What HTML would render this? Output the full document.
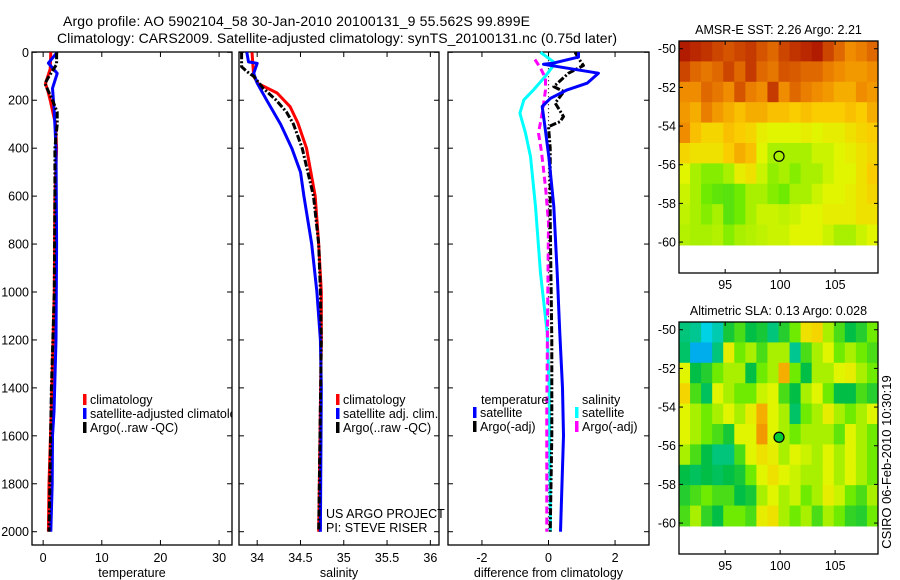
<!DOCTYPE html>
<html><head><meta charset="utf-8"><style>
body{margin:0;background:#fff;}
svg{display:block;font-family:"Liberation Sans",sans-serif;}
text{fill:#000;}
</style></head><body>
<svg id="fig" width="900" height="580" viewBox="0 0 900 580" xmlns="http://www.w3.org/2000/svg">
<defs><clipPath id="clip1"><rect x="32" y="52" width="200" height="493"/></clipPath></defs>
<text x="63" y="26" font-size="14" textLength="467">Argo profile: AO 5902104_58 30-Jan-2010 20100131_9 55.562S 99.899E</text>
<text x="57" y="43" font-size="14" textLength="560">Climatology: CARS2009. Satellite-adjusted climatology: synTS_20100131.nc (0.75d later)</text>
<g id="g1"></g><g id="g2"></g><g id="g3"></g><g id="gm1"></g><g id="gm2"></g>
<text transform="translate(891,462) rotate(-90)" text-anchor="middle" font-size="13">CSIRO 06-Feb-2010 10:30:19</text>
</svg>
<script>
// ---------- profile data ----------
const depthTicks=[0,200,400,600,800,1000,1200,1400,1600,1800,2000];
const tempTicks=[0,10,20,30];
const salTicks=[34,34.5,35,35.5,36];
const diffTicks=[-2,0,2];
// temperature
const tClimD=[0,70,100,130,160,200,300,400,600,1000,1200,1400,1600,1800,2000];
const tClimV=[1.3,1.2,0.8,0.4,0.8,1.2,2.1,2.3,2.0,1.9,1.7,1.5,1.25,1.0,0.9];
const tSatD=[0,45,88,150,250,400,800,1200,1500,1600,1800,2000];
const tSatV=[2.4,0.9,2.4,1.6,1.9,2.2,2.3,2.2,1.85,1.6,1.55,1.3];
const tArgoD=[0,50,100,130,200,250,300,400,600,1000,1400,1800,2000];
const tArgoV=[2.3,2.3,1.0,0.3,1.6,2.4,2.4,2.0,2.0,1.9,1.4,1.15,1.0];
// salinity
const sClimD=[0,100,130,170,227,295,400,600,800,1000,1200,2000];
const sClimV=[33.94,33.96,34.01,34.23,34.38,34.47,34.57,34.67,34.71,34.74,34.74,34.71];
const sSatD=[0,40,46,88,129,200,300,400,500,600,800,1000,1200,1400,2000];
const sSatV=[33.88,33.9,34.0,33.96,34.0,34.11,34.27,34.4,34.5,34.54,34.63,34.69,34.73,34.74,34.73];
const sArgoD=[0,60,80,100,150,200,250,300,400,600,800,1000,1200,2000];
const sArgoV=[33.82,33.82,33.88,33.96,34.07,34.22,34.34,34.42,34.52,34.65,34.71,34.73,34.74,34.71];
// differences
const dTSatD=[0,20,45,50,87,129,157,192,226,296,435,643,921,1171,1400,1600,2000];
const dTSatV=[0.9,0.9,0.15,-0.15,1.5,1.16,0.56,0.06,-0.19,-0.12,0.01,0.16,0.26,0.34,0.42,0.45,0.36];
const dSSatD=[0,45,101,157,198,254,337,435,643,921,1171,1400,2000];
const dSSatV=[-0.24,0.2,-0.1,-0.45,-0.74,-0.86,-0.69,-0.54,-0.39,-0.24,-0.04,0.02,0.06];
const dTArgoD=[0,25,55,87,143,164,212,268,289,310,400,700,1200,1600,2000];
const dTArgoV=[0.8,0.9,1.05,0.6,0.16,0.46,0.2,0.45,0.35,0.0,0.05,0.05,0.1,0.1,0.05];
const dSArgoD=[30,66,108,157,240,337,407,462,574,713,1000,1500,2000];
const dSArgoV=[-0.41,-0.24,-0.09,-0.09,-0.17,-0.3,-0.22,-0.17,-0.08,0.0,-0.02,-0.05,-0.05];
// ---------- map data ----------
const mapLons=[95,100,105];
const mapLats=[-50,-52,-54,-56,-58,-60];
const argoLon=99.899, argoLat=-55.562;
const sstGrid=[
[0.97,0.95,0.93,0.9,0.88,0.9,0.92,0.88,0.85,0.9,0.93,0.95,0.97,0.9,0.85,0.8,0.82,0.85],
[0.9,0.85,0.83,0.85,0.9,0.85,0.92,0.85,0.83,0.88,0.87,0.85,0.85,0.82,0.8,0.78,0.78,0.8],
[0.8,0.8,0.85,0.83,0.8,0.88,0.82,0.8,0.92,0.8,0.85,0.82,0.8,0.78,0.75,0.75,0.8,0.78],
[0.78,0.75,0.82,0.78,0.75,0.72,0.75,0.75,0.72,0.72,0.7,0.72,0.7,0.7,0.7,0.72,0.7,0.75],
[0.8,0.72,0.68,0.68,0.72,0.7,0.68,0.62,0.6,0.6,0.6,0.62,0.6,0.62,0.62,0.65,0.68,0.7],
[0.68,0.65,0.65,0.65,0.7,0.75,0.72,0.6,0.55,0.55,0.55,0.55,0.58,0.58,0.6,0.62,0.65,0.68],
[0.6,0.55,0.52,0.52,0.55,0.62,0.65,0.58,0.53,0.55,0.52,0.55,0.55,0.58,0.6,0.6,0.65,0.7],
[0.58,0.55,0.5,0.48,0.47,0.5,0.55,0.55,0.52,0.5,0.55,0.55,0.58,0.6,0.6,0.62,0.65,0.68],
[0.57,0.55,0.52,0.55,0.47,0.5,0.55,0.58,0.58,0.57,0.58,0.6,0.6,0.62,0.62,0.62,0.65,0.65],
[0.56,0.55,0.55,0.56,0.52,0.55,0.56,0.57,0.58,0.58,0.6,0.6,0.6,0.58,0.55,0.55,0.58,0.6]];
const slaGrid=[
[0.3,0.28,0.2,0.25,0.38,0.45,0.35,0.38,0.3,0.4,0.5,0.65,0.68,0.55,0.45,0.35,0.4,0.5],
[0.32,0.15,0.15,0.3,0.62,0.5,0.55,0.45,0.55,0.55,0.28,0.45,0.55,0.6,0.5,0.55,0.5,0.45],
[0.6,0.35,0.4,0.5,0.55,0.55,0.35,0.5,0.55,0.75,0.5,0.35,0.55,0.55,0.6,0.62,0.55,0.5],
[0.68,0.45,0.33,0.6,0.55,0.5,0.5,0.58,0.6,0.45,0.35,0.55,0.6,0.5,0.35,0.35,0.45,0.4],
[0.6,0.55,0.5,0.55,0.6,0.55,0.62,0.75,0.6,0.55,0.32,0.5,0.55,0.62,0.55,0.5,0.55,0.6],
[0.6,0.55,0.5,0.45,0.38,0.6,0.6,0.78,0.6,0.55,0.5,0.55,0.55,0.55,0.48,0.6,0.55,0.5],
[0.55,0.45,0.35,0.3,0.3,0.45,0.6,0.65,0.62,0.55,0.6,0.58,0.55,0.6,0.55,0.6,0.55,0.5],
[0.35,0.33,0.35,0.33,0.35,0.38,0.5,0.6,0.65,0.6,0.58,0.55,0.55,0.6,0.55,0.6,0.55,0.5],
[0.4,0.45,0.5,0.45,0.45,0.35,0.38,0.55,0.6,0.55,0.58,0.5,0.55,0.62,0.58,0.5,0.45,0.55],
[0.45,0.55,0.42,0.35,0.5,0.5,0.45,0.62,0.65,0.55,0.5,0.55,0.45,0.55,0.5,0.42,0.4,0.5]];

const NS="http://www.w3.org/2000/svg";
function mk(tag,attrs,parent){const e=document.createElementNS(NS,tag);for(const k in attrs)e.setAttribute(k,attrs[k]);parent.appendChild(e);return e;}
const TOP=52, BOT=545;
function yD(d){return 52.3+d*0.2397;}

function panel(g,left,right,x0,x1,ticks,title,name){
  const sx=v=>left+(v-x0)/(x1-x0)*(right-left);
  const fr=mk('rect',{x:left,y:TOP,width:right-left,height:BOT-TOP,fill:'none',stroke:'#000','stroke-width':1.3},g);
  
  
  depthTicks.forEach(d=>{
    const y=yD(d);
    mk('line',{x1:left,x2:left+5,y1:y,y2:y,stroke:'#000'},g);
    mk('line',{x1:right,x2:right-5,y1:y,y2:y,stroke:'#000'},g);
    if(name==='temperature-panel'){
      const t=mk('text',{x:left-3,y:y+4.5,'text-anchor':'end','font-size':12.5},g);t.textContent=d;
      
      
    }
  });
  ticks.forEach(v=>{
    const x=sx(v);
    mk('line',{x1:x,x2:x,y1:BOT,y2:BOT-5,stroke:'#000'},g);
    mk('line',{x1:x,x2:x,y1:TOP,y2:TOP+5,stroke:'#000'},g);
    const t=mk('text',{x:x,y:562,'text-anchor':'middle','font-size':12.5},g);t.textContent=v;
    
    
  });
  const tt=mk('text',{x:(left+right)/2,y:577,'text-anchor':'middle','font-size':12.5},g);tt.textContent=title;
  
  
  return sx;
}
function line(g,sx,D,V,color,dash,name){
  const pts=D.map((d,i)=>sx(V[i]).toFixed(1)+','+yD(d).toFixed(1)).join(' ');
  const p=mk('polyline',{points:pts,fill:'none',stroke:color,'stroke-width':3,'stroke-linejoin':'round'},g);
  if(dash)p.setAttribute('stroke-dasharray',dash);
  
  
}
function legend(g,x,y,color,label,name,clip){
  mk('rect',{x:x,y:y-10,width:3.5,height:11,fill:color},g);
  const t=mk('text',{x:x+7,y:y,'font-size':12.5},g);t.textContent=label;
  if(clip)t.setAttribute('clip-path','url(#'+clip+')');
  
  
}
const DASH_BLK='7,2,2,2', DASH_MAG='7,4';
// Panel 1
const g1=document.getElementById('g1');
const sx1=panel(g1,32,232,-1.9,32.2,tempTicks,'temperature','temperature-panel');
line(g1,sx1,tClimD,tClimV,'#ff0000',null,'temp-climatology-line');
line(g1,sx1,tSatD,tSatV,'#0000ff',null,'temp-satellite-line');
line(g1,sx1,tArgoD,tArgoV,'#000',DASH_BLK,'temp-argo-line');
legend(g1,83,404,'#ff0000','climatology','legend-climatology','clip1');
legend(g1,83,418,'#0000ff','satellite-adjusted climatology','legend-satellite-adjusted','clip1');
legend(g1,83,432,'#000','Argo(..raw -QC)','legend-argo','clip1');
// Panel 2
const g2=document.getElementById('g2');
const sx2=panel(g2,239,439,33.79,36.1,salTicks,'salinity','salinity-panel');
line(g2,sx2,sClimD,sClimV,'#ff0000',null,'sal-climatology-line');
line(g2,sx2,sSatD,sSatV,'#0000ff',null,'sal-satellite-line');
line(g2,sx2,sArgoD,sArgoV,'#000',DASH_BLK,'sal-argo-line');
legend(g2,336,404,'#ff0000','climatology','legend-climatology-2');
legend(g2,336,418,'#0000ff','satellite adj. clim.','legend-satellite-adj-2');
legend(g2,336,432,'#000','Argo(..raw -QC)','legend-argo-2');
const u1=mk('text',{x:326,y:518,'font-size':12.5},g2);u1.textContent='US ARGO PROJECT';


const u2=mk('text',{x:326,y:532,'font-size':12.5},g2);u2.textContent='PI: STEVE RISER';


// Panel 3
const g3=document.getElementById('g3');
const sx3=panel(g3,448,649,-3.02,3.02,diffTicks,'difference from climatology','difference-panel');
mk('line',{x1:sx3(0),x2:sx3(0),y1:yD(0),y2:yD(2000),stroke:'#000','stroke-width':1.2,'stroke-dasharray':'1,3'},g3);
line(g3,sx3,dSSatD,dSSatV,'#00ffff',null,'sal-diff-satellite-line');
line(g3,sx3,dSArgoD,dSArgoV,'#ff00ff',DASH_MAG,'sal-diff-argo-line');
line(g3,sx3,dTArgoD,dTArgoV,'#000',DASH_BLK,'temp-diff-argo-line');
line(g3,sx3,dTSatD,dTSatV,'#0000ff',null,'temp-diff-satellite-line');
const th=mk('text',{x:481,y:404,'font-size':12.5},g3);th.textContent='temperature';


const sh=mk('text',{x:582,y:404,'font-size':12.5},g3);sh.textContent='salinity';


legend(g3,473,417,'#0000ff','satellite','legend-temp-satellite');
legend(g3,473,431,'#000','Argo(-adj)','legend-temp-argo');
legend(g3,575,417,'#00ffff','satellite','legend-sal-satellite');
legend(g3,575,431,'#ff00ff','Argo(-adj)','legend-sal-argo');

// ---------- maps ----------
const cstops=[[0,[0,60,255]],[0.2,[0,210,230]],[0.35,[0,190,70]],[0.5,[110,235,0]],[0.6,[225,245,0]],[0.7,[250,205,0]],[0.8,[240,140,0]],[0.9,[205,70,0]],[1,[165,10,0]]];
function cmap(v){for(let i=1;i<cstops.length;i++){if(v<=cstops[i][0]){const a=cstops[i-1],b=cstops[i];const t=(v-a[0])/(b[0]-a[0]);return 'rgb('+a[1].map((c,k)=>Math.round(c+(b[1][k]-c)*t)).join(',')+')';}}return 'rgb(165,10,0)';}
function drawMap(g,top,grid,title,name,filled){
  const L=679,R=878,B=top+232;
  const lon0=90.8,lon1=108.9,latTop=-49.6,latBot=-61.6;
  const sx=lo=>L+(lo-lon0)/(lon1-lon0)*(R-L);
  const sy=la=>top+(la-latTop)/(latBot-latTop)*(B-top);
  const nr=grid.length,nc=grid[0].length;
  const latDataBot=-60.15;
  grid.forEach((row,r)=>row.forEach((v,c)=>{
    const x=sx(lon0+c*(lon1-lon0)/nc), x2=sx(lon0+(c+1)*(lon1-lon0)/nc);
    const y=sy(latTop+r*(latDataBot-latTop)/nr), y2=sy(latTop+(r+1)*(latDataBot-latTop)/nr);
    const cell=mk('rect',{x:x.toFixed(2),y:y.toFixed(2),width:(x2-x+0.5).toFixed(2),height:(y2-y+0.5).toFixed(2),fill:cmap(v)},g);
    
    
  }));
  const fr=mk('rect',{x:L,y:top,width:R-L,height:B-top,fill:'none',stroke:'#000','stroke-width':1.3},g);
  
  
  mapLats.forEach(la=>{
    const y=sy(la);
    mk('line',{x1:L,x2:L+4,y1:y,y2:y,stroke:'#000'},g);
    mk('line',{x1:R,x2:R-4,y1:y,y2:y,stroke:'#000'},g);
    const t=mk('text',{x:L-3,y:y+4.5,'text-anchor':'end','font-size':12.5},g);t.textContent=la;
    
    
  });
  mapLons.forEach(lo=>{
    const x=sx(lo);
    mk('line',{x1:x,x2:x,y1:B,y2:B-4,stroke:'#000'},g);
    mk('line',{x1:x,x2:x,y1:top,y2:top+4,stroke:'#000'},g);
    const t=mk('text',{x:x,y:B+16,'text-anchor':'middle','font-size':12.5},g);t.textContent=lo;
    
    
  });
  const tt=mk('text',{x:(L+R)/2,y:top-7,'text-anchor':'middle','font-size':12.5},g);tt.textContent=title;
  
  
  const c=mk('ellipse',{cx:sx(argoLon),cy:sy(argoLat),rx:5,ry:5,fill:filled?'#00cc33':'none',stroke:'#000','stroke-width':1.2},g);
  
  
}
drawMap(document.getElementById('gm1'),41,sstGrid,'AMSR-E SST: 2.26 Argo: 2.21','sst-map',false);
drawMap(document.getElementById('gm2'),322,slaGrid,'Altimetric SLA: 0.13 Argo: 0.028','sla-map',true);
</script>
</body></html>
